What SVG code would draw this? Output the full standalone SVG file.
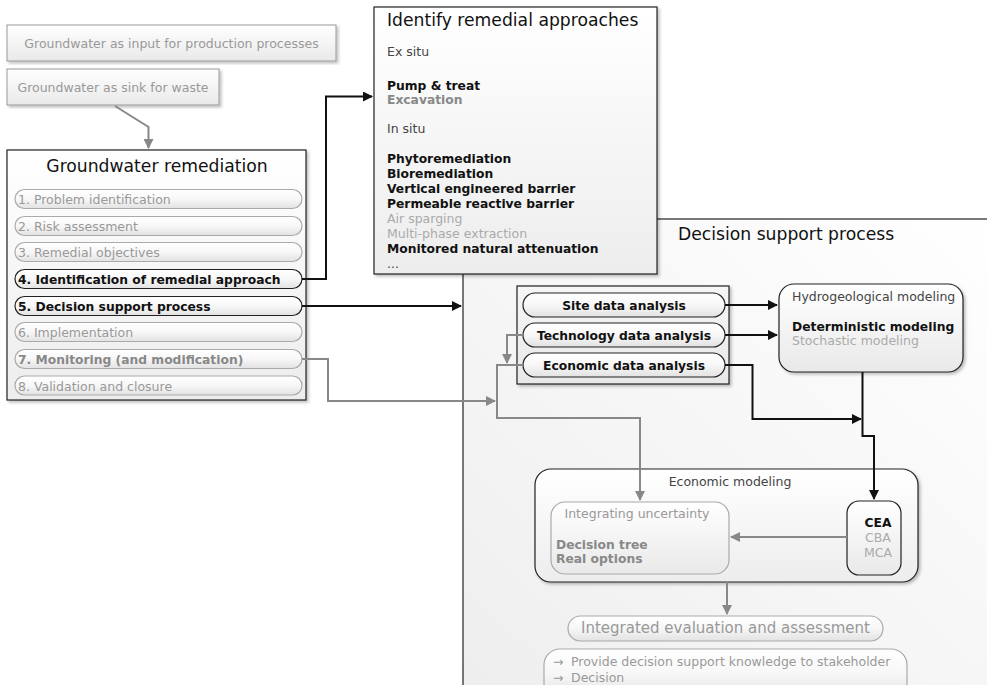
<svg xmlns="http://www.w3.org/2000/svg" width="987" height="685" viewBox="0 0 987 685">
<defs>
<linearGradient id="gBox" x1="0" y1="0" x2="0" y2="1"><stop offset="0" stop-color="#ffffff"/><stop offset="1" stop-color="#e9e9e9"/></linearGradient>
<linearGradient id="gPanel" x1="0" y1="0" x2="0" y2="1"><stop offset="0" stop-color="#ffffff"/><stop offset="1" stop-color="#ededed"/></linearGradient>
<linearGradient id="gBig" x1="1" y1="0" x2="0" y2="1"><stop offset="0" stop-color="#ffffff"/><stop offset="1" stop-color="#eeeeee"/></linearGradient>
<linearGradient id="gPill" x1="0" y1="0" x2="0" y2="1"><stop offset="0" stop-color="#ffffff"/><stop offset="0.5" stop-color="#f7f7f7"/><stop offset="1" stop-color="#e2e2e2"/></linearGradient>
<linearGradient id="gData" x1="0" y1="0" x2="0" y2="1"><stop offset="0" stop-color="#f6f6f6"/><stop offset="1" stop-color="#e8e8e8"/></linearGradient>
<filter id="sh" x="-5%" y="-5%" width="115%" height="115%"><feDropShadow dx="2" dy="2" stdDeviation="1.5" flood-color="#000" flood-opacity="0.25"/></filter>
<marker id="aB" viewBox="0 0 10 10" refX="9" refY="5" markerWidth="5" markerHeight="5" orient="auto" markerUnits="strokeWidth"><path d="M0,0 L10,5 L0,10 z" fill="#111"/></marker>
<marker id="aG" viewBox="0 0 10 10" refX="9" refY="5" markerWidth="5" markerHeight="5" orient="auto" markerUnits="strokeWidth"><path d="M0,0 L10,5 L0,10 z" fill="#888"/></marker>
</defs>
<style>
text{font-family:"DejaVu Sans","Liberation Sans",sans-serif;}
.t{font-size:17.2px;fill:#111;}
.r{font-size:12.5px;}
.b{font-size:12.3px;font-weight:bold;}
.dk{fill:#111;}
.md{fill:#444;}
.gr{fill:#999;}
.lg{fill:#aaa;}
.bg{fill:#888;}
.box{fill:url(#gBox);stroke:#999;stroke-width:1;}
.pillG{fill:url(#gPill);stroke:#aaa;stroke-width:1.2;}
.pillK{fill:url(#gPill);stroke:#222;stroke-width:1.2;}
.blk{fill:none;stroke:#111;stroke-width:2;marker-end:url(#aB);}
.gry{fill:none;stroke:#888;stroke-width:2;marker-end:url(#aG);}
.ln{fill:none;stroke:#111;stroke-width:2;}
</style>

<g id="decision-support">
<rect x="463" y="219" width="540" height="480" fill="url(#gBig)" stroke="#222" stroke-width="1.2"/>
<text class="t" x="678" y="240">Decision support process</text>
</g>

<g id="input-production">
<rect class="box" x="7" y="25" width="329" height="36" filter="url(#sh)"/>
<text class="r gr" x="171.5" y="47.5" text-anchor="middle">Groundwater as input for production processes</text>
</g>
<g id="sink-waste">
<rect class="box" x="7" y="69" width="212" height="36" filter="url(#sh)"/>
<text class="r gr" x="113" y="91.5" text-anchor="middle">Groundwater as sink for waste</text>
</g>

<g id="groundwater-remediation">
<rect x="7" y="150" width="299" height="250" fill="url(#gPanel)" stroke="#222" stroke-width="1.2" filter="url(#sh)"/>
<text class="t" x="157" y="172" text-anchor="middle">Groundwater remediation</text>
<rect class="pillG" x="15" y="189.5" width="287" height="19" rx="9.5"/>
<text class="r gr" x="18" y="204">1. Problem identification</text>
<rect class="pillG" x="15" y="216.5" width="287" height="19" rx="9.5"/>
<text class="r gr" x="18" y="231">2. Risk assessment</text>
<rect class="pillG" x="15" y="242.5" width="287" height="19" rx="9.5"/>
<text class="r gr" x="18" y="257">3. Remedial objectives</text>
<rect class="pillK" x="15" y="269.5" width="287" height="19" rx="9.5"/>
<text class="b dk" x="18" y="284">4. Identification of remedial approach</text>
<rect class="pillK" x="15" y="296.5" width="287" height="19" rx="9.5"/>
<text class="b dk" x="18" y="311">5. Decision support process</text>
<rect class="pillG" x="15" y="322.5" width="287" height="19" rx="9.5"/>
<text class="r gr" x="18" y="337">6. Implementation</text>
<rect class="pillG" x="15" y="349.5" width="287" height="19" rx="9.5"/>
<text class="b bg" x="18" y="364">7. Monitoring (and modification)</text>
<rect class="pillG" x="15" y="376" width="287" height="19" rx="9.5"/>
<text class="r gr" x="18" y="390.5">8. Validation and closure</text>
</g>

<g id="identify-approaches">
<rect x="374" y="7" width="283" height="267" fill="url(#gPanel)" stroke="#222" stroke-width="1.2" filter="url(#sh)"/>
<text class="t" x="387" y="26">Identify remedial approaches</text>
<text class="r md" x="387" y="56">Ex situ</text>
<text class="b dk" x="387" y="90">Pump &amp; treat</text>
<text class="b bg" x="387" y="104">Excavation</text>
<text class="r md" x="387" y="133">In situ</text>
<text class="b dk" x="387" y="163">Phytoremediation</text>
<text class="b dk" x="387" y="178">Bioremediation</text>
<text class="b dk" x="387" y="193">Vertical engineered barrier</text>
<text class="b dk" x="387" y="208">Permeable reactive barrier</text>
<text class="r lg" x="387" y="223">Air sparging</text>
<text class="r lg" x="387" y="238">Multi-phase extraction</text>
<text class="b dk" x="387" y="253">Monitored natural attenuation</text>
<text class="r md" x="387" y="268">...</text>
</g>

<g id="data-analysis">
<rect x="517" y="286" width="212" height="98" fill="url(#gData)" stroke="#222" stroke-width="1.2" filter="url(#sh)"/>
<rect class="pillK" x="523" y="293" width="202" height="24" rx="12"/>
<text class="b dk" x="624" y="309.5" text-anchor="middle">Site data analysis</text>
<rect class="pillK" x="523" y="323" width="202" height="24" rx="12"/>
<text class="b dk" x="624" y="339.5" text-anchor="middle">Technology data analysis</text>
<rect class="pillK" x="523" y="353" width="202" height="24" rx="12"/>
<text class="b dk" x="624" y="369.5" text-anchor="middle">Economic data analysis</text>
</g>

<g id="hydrogeological-modeling">
<rect x="779" y="284" width="184" height="88" rx="15" fill="url(#gBox)" stroke="#222" stroke-width="1.2" filter="url(#sh)"/>
<text class="r md" x="792" y="301">Hydrogeological modeling</text>
<text class="b dk" x="792" y="331">Deterministic modeling</text>
<text class="r lg" x="792" y="345">Stochastic modeling</text>
</g>

<g id="economic-modeling">
<rect x="535" y="469" width="383" height="113" rx="16" fill="url(#gPanel)" stroke="#222" stroke-width="1.2" filter="url(#sh)"/>
<text class="r md" x="730" y="486" text-anchor="middle">Economic modeling</text>
</g>
<g id="integrating-uncertainty">
<rect x="551" y="502" width="178" height="72" rx="14" fill="url(#gBox)" stroke="#aaa" stroke-width="1.2"/>
<text class="r gr" x="637" y="518" text-anchor="middle">Integrating uncertainty</text>
<text class="b bg" x="556" y="549">Decision tree</text>
<text class="b bg" x="556" y="563">Real options</text>
</g>
<g id="cea">
<rect x="847" y="501" width="54" height="74" rx="12" fill="url(#gBox)" stroke="#222" stroke-width="1.2"/>
<text class="b dk" x="878" y="527" text-anchor="middle">CEA</text>
<text class="r lg" x="878" y="542" text-anchor="middle">CBA</text>
<text class="r lg" x="878" y="557" text-anchor="middle">MCA</text>
</g>

<g id="integrated-evaluation">
<rect class="pillG" x="568" y="616" width="315" height="25" rx="12.5"/>
<text x="725.5" y="633" text-anchor="middle" font-size="15" fill="#999">Integrated evaluation and assessment</text>
</g>
<g id="decision-knowledge">
<rect class="pillG" x="544" y="649" width="363" height="50" rx="16"/>
<text class="r gr" y="666"><tspan x="553">→</tspan><tspan x="571">Provide decision support knowledge to stakeholder</tspan></text>
<text class="r gr" y="682"><tspan x="553">→</tspan><tspan x="571">Decision</tspan></text>
</g>

<g id="connectors">
<path class="gry" d="M115,106 L148.5,127 L148.5,148"/>
<path class="blk" d="M302,279 H326 V96.5 H372"/>
<path class="blk" d="M302,306 H461"/>
<path class="gry" d="M302,359 H328 V401 H495"/>
<path class="blk" d="M725,305 H777"/>
<path class="blk" d="M725,335 H777"/>
<path class="blk" d="M725,365 H752.5 V419 H861"/>
<path class="blk" d="M862.5,372 V436 H874 V499"/>
<path class="gry" d="M523,335 H507 V363"/>
<path class="gry" d="M523,365 H497 V418 H640 V500"/>
<path class="gry" d="M847,537 H731"/>
<path class="gry" d="M727,582 V614"/>
</g>
</svg>
